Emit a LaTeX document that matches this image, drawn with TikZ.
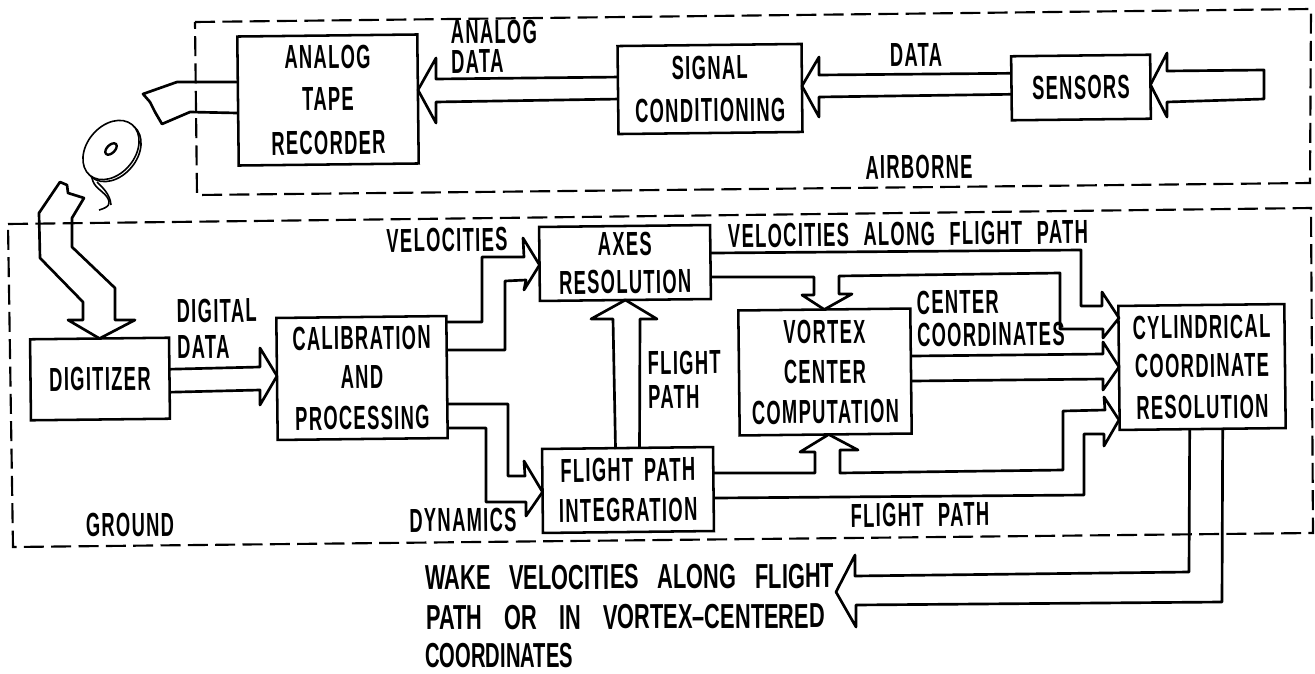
\documentclass[tikz,border=0pt]{standalone}
\usepackage{fontspec}
\usetikzlibrary{calc}
\newfontfamily\dgm{Liberation Sans}[FakeStretch=0.55,LetterSpace=4]
\newfontfamily\dgmb{Liberation Sans}[FakeStretch=0.63]
\newfontfamily\dgmc{Liberation Sans}[FakeStretch=0.585]
\tikzset{
  blockbox/.style 2 args={draw,line width=1.9pt,inner sep=0pt,outer sep=0pt,rotate=0.65,align=center,
    minimum width=#1*0.75pt,minimum height=#2*0.75pt,font=\dgm\bfseries\fontsize{25}{30}\selectfont},
  lab/.style={inner sep=0pt,outer sep=0pt,rotate=0.65,align=left,font=\dgm\bfseries\fontsize{25}{30}\selectfont},
  leftlab/.style={lab,anchor=west},
  biglab/.style={inner sep=0pt,outer sep=0pt,anchor=west,rotate=0.3,font=\dgmb\bfseries\fontsize{26}{30}\selectfont},
  pipe/.style={draw,line width=2pt,line join=round},
  frame/.style={draw,line width=1.6pt,dash pattern=on 15pt off 5.5pt},
  thin tape/.style={draw,line width=1.2pt,line join=round}
}
\begin{document}
\begin{tikzpicture}[x=0.75pt,y=-0.75pt]
\useasboundingbox (0,0) rectangle (1315,674);
% frames
\draw[frame] (195,22) -- (1311,9) -- (1310,183) -- (197,195) -- cycle;
\draw[frame] (8,224) -- (1311,208) -- (1313,533) -- (13,547) -- cycle;
% boxes
\node[blockbox={180}{129}] (rec) at (328,100) {ANALOG\\[1.5pt]TAPE\\[3pt]RECORDER};
\node[blockbox={184}{88}] (sig) at (710,89) {SIGNAL\\[2pt]CONDITIONING};
\node[blockbox={139}{64}] (sens) at (1081,87.5) {SENSORS};
\node[blockbox={139}{81}] (digi) at (100,379) {D\kern1pt I\kern1pt G\kern1pt I\kern1pt T\kern1pt I\kern1pt Z\kern1pt E\kern1pt R};
\node[blockbox={170}{122}] (cal) at (362,378) {CALIBRATION\\[-1pt]AND\\[1pt]PROCESSING};
\node[blockbox={171}{74}] (axes) at (625,263) {AXES\\[-1.5pt]RESOLUTION};
\node[blockbox={171}{84}] (integ) at (628,490) {FLIGHT\hspace{8pt}PATH\\[0pt]INTEGRATION};
\node[blockbox={172}{125}] (vtx) at (825,372) {VORTEX\\[0pt]CENTER\\[0pt]COMPUTATION};
\node[blockbox={166}{124}] (cyl) at (1202,367) {CYLINDRICAL\\[-1pt]COORDINATE\\[1pt]RESOLUTION};
% labels
\node[leftlab] (l1) at (451,47) {ANALOG\\[-8pt]DATA};
\node[lab] (l3) at (916,55) {DATA};
\node[lab] (l4) at (919,167) {AIRBORNE};
\node[lab] (l5) at (447,240) {VELOCITIES};
\node[leftlab] (l6) at (177,329) {DIGITAL\\[-3pt]DATA};
\node[leftlab] (l8) at (648,380) {FLIGHT\\[-4.5pt]PATH};
\node[lab] (l10) at (463,520) {DYNAMICS};
\node[lab] (l11) at (908,234) {VELOCITIES\hspace{6pt} ALONG\hspace{6pt} FLIGHT\hspace{6pt} PATH};
\node[leftlab] (l12) at (917,319) {CENTER\\[-5.5pt]COORDINATES};
\node[lab] (l14) at (920,515) {FLIGHT\hspace{6pt} PATH};
\node[lab] (l15) at (130,525) {GROUND};
\node[biglab] (w1) at (425,578) {WAKE\hspace{9.5pt} VELOCITIES\hspace{9.5pt} ALONG\hspace{9.5pt} FLIGHT};
\node[biglab] (w2) at (426,618) {PATH\hspace{12pt} OR\hspace{12pt} IN\hspace{12pt} VORTEX–CENTERED};
\node[biglab,font=\dgmc\bfseries\fontsize{26}{30}\selectfont] (w3) at (425,656) {COORDINATES};
% free ends
\coordinate (in1) at (1264,70);
\coordinate (in2) at (1264,99);
\coordinate (outtip) at (836,592);
% hollow arrows
\draw[pipe] ($(sens.west)+(0,-15)$) -- (819,75) -- (819,57) -- ($(sig.east)+(0,-2)$) -- (819,117) -- (819,97) -- ($(sens.west)+(0,6)$);
\draw[pipe] ($(sig.west)+(0,-13)$) -- (436,79) -- (436,58) -- ($(rec.east)+(0,-9)$) -- (436,123) -- (436,102) -- ($(sig.west)+(0,9)$);
\draw[pipe] (in1) -- (1167,71) -- (1167,53) -- ($(sens.east)+(0,-2)$) -- (1167,117) -- (1167,102) -- (in2) -- cycle;
\draw[pipe] ($(rec.west)+(0,-19)$) -- (177,82) -- (143,94) -- (150,102) -- (155,112) -- (162,124) -- (190,112) -- ($(rec.west)+(0,12)$);
\draw[pipe] (60,182) -- (39,213) -- (40,258) -- (83,302) -- (83,320) -- (68,320) -- (digi.north) -- (135,320) -- (115,320) -- (115,288) -- (72,247) -- (72,218) -- (84,198) -- (68,193) -- (67,185) -- cycle;
\draw[pipe] ($(digi.east)+(0,-9)$) -- (260,367) -- (260,348) -- ($(cal.west)+(0,-3)$) -- (260,405) -- (260,390) -- ($(digi.east)+(0,14)$);
\draw[pipe] ($(cal.east)+(0,-55)$) -- (482,322) -- (482,257) -- (524,257) -- (523,238) -- ($(axes.west)+(0,1)$) -- (524,290) -- (526,280) -- (505,281) -- (505,350) -- ($(cal.east)+(0,-27)$);
\draw[pipe] ($(cal.east)+(0,27)$) -- (508,404) -- (508,476) -- (525,476) -- (524,461) -- ($(integ.west)+(0,1)$) -- (526,516) -- (526,502) -- (486,502) -- (486,428) -- ($(cal.east)+(0,51)$);
\draw[pipe] ($(integ.north)+(-12,1)$) -- (613,319) -- (591,319) -- (axes.south) -- (657,319) -- (640,319) -- ($(integ.north)+(12,-1)$);
\draw[pipe] ($(axes.east)+(0,-9)$) -- (1081,250) -- (1081,306) -- (1102,306) -- (1102,292) -- ($(cyl.west)+(0,-50)$) -- (1103,338) -- (1103,329) -- (1060,329) -- (1060,273) -- (839,276) -- (839,294) -- (852,294) -- (vtx.north) -- (802,295) -- (814,295) -- (814,277) -- ($(axes.east)+(0,15)$);
\draw[pipe] ($(vtx.east)+(0,-15)$) -- (1103,354) -- (1103,342) -- ($(cyl.west)+(0,-1)$) -- (1103,390) -- (1103,379) -- ($(vtx.east)+(0,10)$);
\draw[pipe] ($(integ.east)+(0,-16)$) -- (815,473) -- (815,452) -- (800,452) -- ($(vtx.south)+(3,0)$) -- (858,450) -- (840,450) -- (840,473) -- (1063,470) -- (1063,411) -- (1105,410) -- (1104,397) -- ($(cyl.west)+(0,52)$) -- (1104,446) -- (1104,434) -- (1084,434) -- (1084,495) -- ($(integ.east)+(0,9)$);
\draw[pipe] ($(cyl.south)+(-13,1)$) -- (1189,572) -- (855,576) -- (855,555) -- (outtip) -- (856,627) -- (856,605) -- (1222,602) -- ($(cyl.south)+(20,-1)$);
% tape reel
\draw[thin tape,fill=white] (113,152) ellipse [x radius=33,y radius=24,rotate=50];
\draw[thin tape,fill=white] (111,150) ellipse [x radius=33,y radius=24,rotate=50];
\draw[thin tape,line width=1.8pt] (111,149) ellipse [x radius=7,y radius=4,rotate=45];
\draw[thin tape] (92,178) .. controls (94,188) and (102,190) .. (107,197) .. controls (111,203) and (110,207) .. (99,210);
\draw[thin tape] (97,182) .. controls (103,188) and (110,194) .. (111,205);
\end{tikzpicture}
\end{document}
